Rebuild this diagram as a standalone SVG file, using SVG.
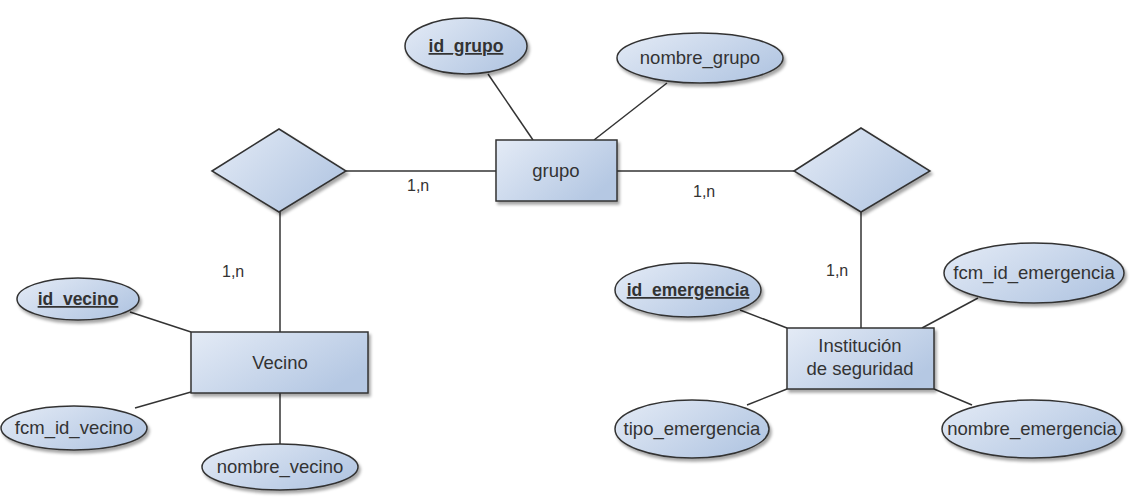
<svg xmlns="http://www.w3.org/2000/svg" width="1133" height="497" viewBox="0 0 1133 497">
  <defs>
    <linearGradient id="fillGrad" x1="0" y1="0" x2="1" y2="0.6">
      <stop offset="0" stop-color="#e4ebf6"/>
      <stop offset="1" stop-color="#b5c8e3"/>
    </linearGradient>
    <filter id="shadow" x="-20%" y="-20%" width="140%" height="150%">
      <feDropShadow dx="2" dy="3" stdDeviation="1.5" flood-color="#000" flood-opacity="0.35"/>
    </filter>
  </defs>
  <style>
    .shape { fill: url(#fillGrad); stroke: #333; stroke-width: 1.5; filter: url(#shadow); }
    .lbl { font-family: "Liberation Sans", Arial, sans-serif; font-size: 18.5px; fill: #333; text-anchor: middle; }
    .key { font-weight: bold; text-decoration: underline; font-size: 17.5px; }
    .card { font-family: "Liberation Sans", Arial, sans-serif; font-size: 16px; fill: #333; }
    .conn line { stroke: #333; stroke-width: 1.5; }
  </style>
  <rect width="1133" height="497" fill="#fff"/>

  <!-- connectors -->
  <g id="connectors" class="conn">
    <line x1="346" y1="171" x2="496" y2="171"/>
    <line x1="617" y1="171" x2="794" y2="171"/>
    <line x1="280" y1="212" x2="280" y2="332"/>
    <line x1="861" y1="212" x2="861" y2="328"/>
    <line x1="488" y1="74" x2="533" y2="140"/>
    <line x1="667" y1="83" x2="594" y2="140"/>
    <line x1="130" y1="312" x2="191" y2="332"/>
    <line x1="135" y1="408" x2="191" y2="392"/>
    <line x1="280" y1="393" x2="280" y2="444"/>
    <line x1="740" y1="310" x2="787" y2="328"/>
    <line x1="978" y1="298" x2="922" y2="328"/>
    <line x1="747" y1="405" x2="787" y2="389"/>
    <line x1="972" y1="405" x2="934" y2="389"/>
    <text class="card" x="407" y="191">1,n</text>
    <text class="card" x="693" y="197">1,n</text>
    <text class="card" x="222" y="277">1,n</text>
    <text class="card" x="826" y="276">1,n</text>
  </g>

  <!-- relationships -->
  <g id="rel-vecino-grupo">
    <polygon class="shape" points="212,171 279,129 346,171 279,212"/>
  </g>
  <g id="rel-grupo-institucion">
    <polygon class="shape" points="794,171 861,128 930,171 861,212"/>
  </g>

  <!-- entities -->
  <g id="ent-grupo">
    <rect class="shape" x="496" y="140" width="121" height="61"/>
    <text class="lbl" x="556" y="177">grupo</text>
  </g>
  <g id="ent-vecino">
    <rect class="shape" x="191" y="332" width="177" height="61"/>
    <text class="lbl" x="280" y="369">Vecino</text>
  </g>
  <g id="ent-institucion">
    <rect class="shape" x="787" y="328" width="147" height="61"/>
    <text class="lbl" x="860" y="352">Institución</text>
    <text class="lbl" x="860" y="375">de seguridad</text>
  </g>

  <!-- attributes -->
  <g id="attr-id-grupo">
    <ellipse class="shape" cx="466" cy="46" rx="61" ry="28"/>
    <text class="lbl key" x="466" y="52">id_grupo</text>
  </g>
  <g id="attr-nombre-grupo">
    <ellipse class="shape" cx="700" cy="58" rx="83" ry="25"/>
    <text class="lbl" x="700" y="64">nombre_grupo</text>
  </g>
  <g id="attr-id-vecino">
    <ellipse class="shape" cx="78" cy="299" rx="61" ry="21"/>
    <text class="lbl key" x="78" y="305">id_vecino</text>
  </g>
  <g id="attr-fcm-id-vecino">
    <ellipse class="shape" cx="74" cy="428" rx="73" ry="22"/>
    <text class="lbl" x="74" y="434">fcm_id_vecino</text>
  </g>
  <g id="attr-nombre-vecino">
    <ellipse class="shape" cx="280" cy="467" rx="78" ry="23"/>
    <text class="lbl" x="280" y="473">nombre_vecino</text>
  </g>
  <g id="attr-id-emergencia">
    <ellipse class="shape" cx="688" cy="290" rx="73" ry="27"/>
    <text class="lbl key" x="688" y="296">id_emergencia</text>
  </g>
  <g id="attr-fcm-id-emergencia">
    <ellipse class="shape" cx="1034" cy="273" rx="90" ry="30"/>
    <text class="lbl" x="1034" y="279">fcm_id_emergencia</text>
  </g>
  <g id="attr-tipo-emergencia">
    <ellipse class="shape" cx="692" cy="429" rx="77" ry="29"/>
    <text class="lbl" x="692" y="435">tipo_emergencia</text>
  </g>
  <g id="attr-nombre-emergencia">
    <ellipse class="shape" cx="1032" cy="429" rx="90" ry="29"/>
    <text class="lbl" x="1032" y="435">nombre_emergencia</text>
  </g>
</svg>
